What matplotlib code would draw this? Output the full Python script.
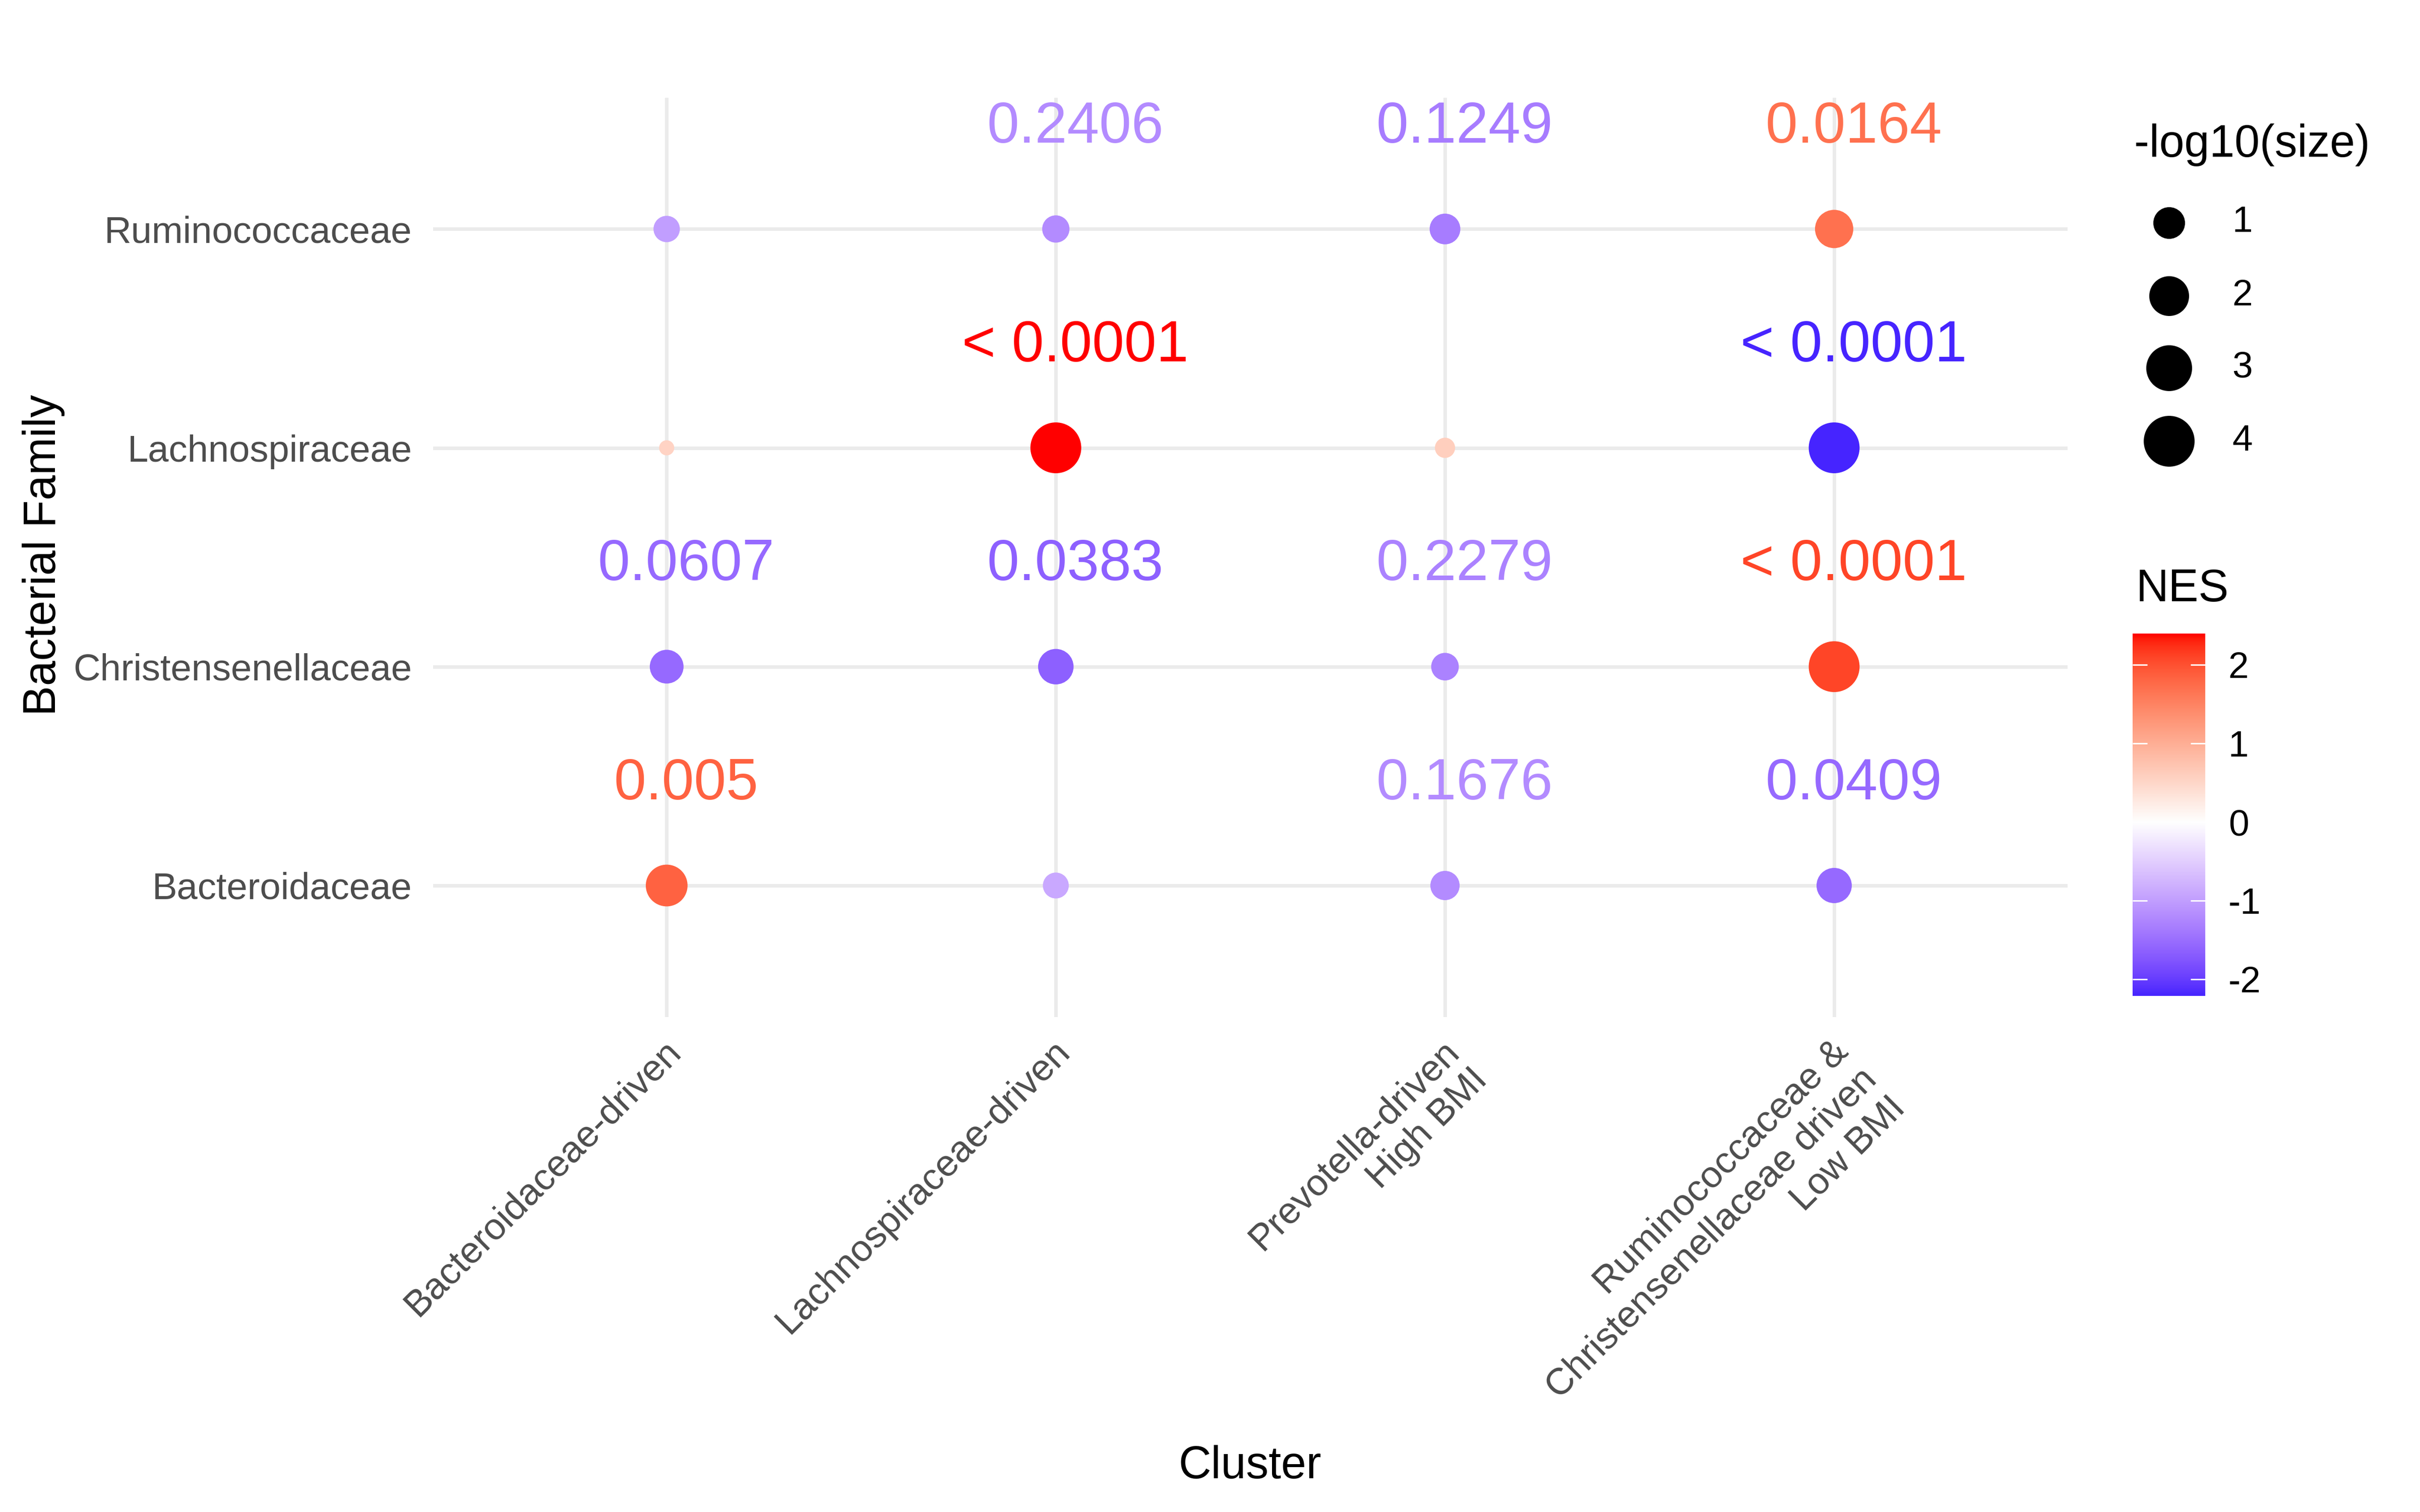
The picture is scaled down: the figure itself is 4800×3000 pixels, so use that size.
import numpy as np
import matplotlib
matplotlib.use("Agg")
import matplotlib.pyplot as plt
from matplotlib import colors as mcolors
from matplotlib import transforms

plt.rcParams['font.family'] = ['Liberation Sans', 'DejaVu Sans']
plt.rcParams['axes.unicode_minus'] = False

clusters = ['Bacteroidaceae-driven', 'Lachnospiraceae-driven',
            'Prevotella-driven\nHigh BMI',
            'Ruminococcaceae &\nChristensenellaceae driven\nLow BMI']
families = ['Bacteroidaceae', 'Christensenellaceae', 'Lachnospiraceae', 'Ruminococcaceae']

# one list per family, values in cluster order
nes_bacteroidaceae = [1.85, -0.9, -1.2, -1.55]
nes_christensenellaceae = [-1.55, -1.65, -1.3, 2.1]
nes_lachnospiraceae = [0.55, 2.40, 0.6, -2.21]
nes_ruminococcaceae = [-1.0, -1.2, -1.35, 1.7]

p_bacteroidaceae = [0.005, 0.30, 0.1676, 0.0409]
p_christensenellaceae = [0.0607, 0.0383, 0.2279, 0.0001]
p_lachnospiraceae = [0.67, 0.0001, 0.56, 0.0001]
p_ruminococcaceae = [0.28, 0.2406, 0.1249, 0.0164]

nes = np.array([nes_bacteroidaceae, nes_christensenellaceae,
                nes_lachnospiraceae, nes_ruminococcaceae])
pval = np.array([p_bacteroidaceae, p_christensenellaceae,
                 p_lachnospiraceae, p_ruminococcaceae])
size_val = -np.log10(pval)


# ---- colour scale: blue - white - red, interpolated in CIELAB like ggplot
M = np.array([[0.4124564, 0.3575761, 0.1804375],
              [0.2126729, 0.7151522, 0.0721750],
              [0.0193339, 0.1191920, 0.9503041]])
WHITE = np.array([0.95047, 1.0, 1.08883])


def to_lab(c):
    c = np.asarray(mcolors.to_rgb(c))
    lin = np.where(c <= 0.04045, c / 12.92, ((c + 0.055) / 1.055) ** 2.4)
    xyz = M @ lin / WHITE
    f = np.where(xyz > 216 / 24389, np.cbrt(xyz), (24389 / 27 * xyz + 16) / 116)
    return np.array([116 * f[1] - 16, 500 * (f[0] - f[1]), 200 * (f[1] - f[2])])


def from_lab(lab):
    fy = (lab[0] + 16) / 116
    fx = fy + lab[1] / 500
    fz = fy - lab[2] / 200
    f = np.array([fx, fy, fz])
    xyz = np.where(f ** 3 > 216 / 24389, f ** 3, (116 * f - 16) / (24389 / 27)) * WHITE
    lin = np.clip(np.linalg.inv(M) @ xyz, 0, 1)
    c = np.where(lin <= 0.0031308, 12.92 * lin, 1.055 * lin ** (1 / 2.4) - 0.055)
    return np.clip(c, 0, 1)


lab_lo, lab_mid, lab_hi = to_lab('blue'), to_lab('white'), to_lab('red')
ramp = []
for t in np.linspace(0, 1, 512):
    if t < 0.5:
        ramp.append(from_lab(lab_lo + (lab_mid - lab_lo) * t / 0.5))
    else:
        ramp.append(from_lab(lab_mid + (lab_hi - lab_mid) * (t - 0.5) / 0.5))
cmap = mcolors.ListedColormap(ramp)
lim = np.abs(nes).max()
norm = mcolors.Normalize(-lim, lim)

# ---- size scale (area scale, like scale_size)
lo, hi = size_val.min(), size_val.max()


def dot_size(v):
    d = 7.2 + (24.2 - 7.2) * np.sqrt((np.asarray(v) - lo) / (hi - lo))
    return d ** 2


fig = plt.figure(figsize=(16, 10), dpi=300)
ax = fig.add_axes([0.1790, 0.3275, 0.8544 - 0.1790, 0.9354 - 0.3275])

xs = np.arange(1, len(clusters) + 1)
ys = np.arange(1, len(families) + 1)
xx, yy = np.meshgrid(xs, ys)

ax.scatter(xx.ravel(), yy.ravel(), s=dot_size(size_val.ravel()),
           c=nes.ravel(), cmap=cmap, norm=norm, linewidths=0, zorder=3)

for i in range(len(families)):
    for j in range(len(clusters)):
        p = pval[i, j]
        if p >= 0.25:
            continue
        lab = '< 0.0001' if p <= 0.0001 else str(round(p, 4))
        ax.text(xs[j] + 0.05, ys[i] + 0.49, lab, color=cmap(norm(nes[i, j])),
                fontsize=27.5, ha='center', va='center_baseline', zorder=4)

ax.set_xlim(0.4, len(clusters) + 0.6)
ax.set_ylim(0.4, len(families) + 0.6)
ax.set_axisbelow(True)
ax.grid(color='#EBEBEB', lw=1.7)
for sp in ax.spines.values():
    sp.set_visible(False)

ax.set_yticks(ys, families)
ax.tick_params(axis='y', length=0, pad=10, labelsize=17.8, labelcolor='#4D4D4D')
ax.set_xticks(xs, clusters)
ax.tick_params(axis='x', length=0, pad=8, labelsize=17.8, labelcolor='#4D4D4D')
shift = transforms.ScaledTranslation(-1.8 / 72, 0, fig.dpi_scale_trans)
for lbl in ax.get_xticklabels():
    lbl.set_rotation(45)
    lbl.set_ha('right')
    lbl.set_va('top')
    lbl.set_rotation_mode('anchor')
    lbl.set_multialignment('right')
    lbl.set_transform(lbl.get_transform() + shift)

fig.text(0.5165, 1 - 2910 / 3000, 'Cluster', fontsize=21.5, ha='center', va='center')
fig.text(87 / 4800, 1 - 1101 / 3000, 'Bacterial Family', fontsize=21.5,
         rotation=90, ha='center', va='center')

# ---- size legend
fig.text(0.8819, 1 - 288 / 3000, '-log10(size)', fontsize=21.5, ha='left', va='center')
leg_vals = [1, 2, 3, 4]
leg_y = [1 - 442 / 3000, 1 - 587 / 3000, 1 - 730 / 3000, 1 - 875 / 3000]
for v, yv in zip(leg_vals, leg_y):
    fig.add_artist(plt.Line2D([0.8963], [yv], marker='o', color='black', ls='none',
                              markersize=np.sqrt(dot_size(v)), markeredgewidth=0,
                              transform=fig.transFigure))
    fig.text(0.9223, yv, str(v), fontsize=17.5, ha='left', va='center')

# ---- colour bar
fig.text(0.8826, 1 - 1170 / 3000, 'NES', fontsize=21.5, ha='left', va='center')
cax = fig.add_axes([4230 / 4800, 1 - 1976 / 3000, 144 / 4800, 719 / 3000])
grad = np.linspace(nes.min(), nes.max(), 400).reshape(-1, 1)
cax.imshow(grad, cmap=cmap, norm=norm, aspect='auto', origin='lower',
           extent=[0, 1, nes.min(), nes.max()])
cax.set_xticks([])
cax.set_yticks([-2, -1, 0, 1, 2])
cax.tick_params(axis='y', direction='in', length=7, width=0.7, color='white',
                left=True, right=True, labelleft=False, labelright=True,
                labelsize=17.5, pad=11)
for sp in cax.spines.values():
    sp.set_visible(False)

fig.savefig('out.png', dpi=300, facecolor='white')
